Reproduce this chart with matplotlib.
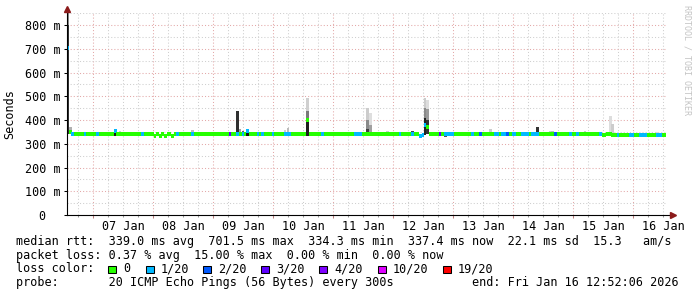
import numpy as np
import matplotlib
matplotlib.use('Agg')
import matplotlib.pyplot as plt
import matplotlib.dates as mdates
from matplotlib.ticker import MultipleLocator, FuncFormatter, NullFormatter
from matplotlib.patches import Rectangle
from datetime import datetime

# 10 days of hourly rows
t_start = datetime(2026, 1, 6, 13, 17)
n_slots = 240

# median rtt (ms), step data: value holds from this hour slot to the next entry
med_slot = [0, 1, 2, 19, 20, 35, 36, 37, 38, 39, 40, 42, 43, 72, 73, 96, 97,
            141, 142, 143, 144, 145, 214, 216, 218]
med_ms = [701.5, 350, 339, 352, 339, 333, 339, 333, 339, 333, 339, 333, 339,
          352, 339, 402, 339, 334.3, 336, 380, 372, 339, 335, 339, 337.4]

# hours with packet loss (pings lost of 20)
loss_slot = [0, 2, 7, 12, 19, 30, 44, 50, 65, 68, 70, 72, 76, 78, 82, 87, 88, 89,
             102, 115, 116, 117, 133, 138, 141, 142, 143, 149, 151, 152, 153, 154,
             162, 165, 171, 172, 174, 175, 176, 178, 179, 182, 183, 184, 186, 187,
             188, 195, 201, 204, 213, 220, 225, 226, 229, 230, 231, 236, 237]
loss_n = [1, 1, 1, 1, 1, 1, 1, 1, 3, 1, 1, 1, 1, 1, 1, 1, 1, 1,
          1, 1, 1, 1, 1, 1, 1, 1, 1, 3, 1, 1, 1, 1,
          1, 2, 1, 1, 1, 1, 2, 1, 1, 1, 1, 1, 1, 1,
          1, 2, 1, 1, 1, 1, 1, 1, 1, 1, 1, 1, 1]

# smoke: spread of the pings in an hour, drawn as grey bands
smoke_slot = [0, 0, 1, 19, 21, 25, 50, 65, 68, 69, 70, 72, 87, 88,
              96, 96, 96, 110, 116, 120, 120, 120, 121, 121, 128, 133, 138,
              143, 143, 143, 144, 144, 144, 146, 151, 169, 188, 191, 193, 194,
              207, 217, 218, 236, 239]
smoke_lo = [339, 800, 339, 333, 339, 339, 339, 332, 339, 339, 339, 331, 339, 339,
            333, 404, 440, 339, 336, 339, 362, 400, 339, 380, 339, 339, 339,
            336, 410, 450, 339, 400, 445, 331, 330, 339, 339, 339, 339, 339,
            339, 339, 337, 337, 332]
smoke_hi = [800, 860, 372, 358, 352, 348, 356, 345, 438, 362, 355, 358, 358, 366,
            404, 440, 493, 350, 345, 362, 400, 450, 380, 430, 353, 346, 355,
            410, 450, 492, 400, 445, 485, 339, 339, 363, 370, 346, 353, 353,
            355, 418, 383, 350, 342]
smoke_grey = ['#333333', '#8c8c8c', '#b0b0b0', '#1a1a1a', '#d0d0d0', '#c8c8c8',
              '#bcbcbc', '#404040', '#303030', '#a0a0a0', '#606060', '#111111',
              '#d0d0d0', '#bcbcbc', '#1e1e1e', '#7a7a7a', '#cfcfcf', '#b0b0b0',
              '#404040', '#404040', '#8a8a8a', '#cccccc', '#a0a0a0', '#dedede',
              '#cccccc', '#555555', '#444444', '#222222', '#8a8a8a', '#cccccc',
              '#333333', '#9a9a9a', '#dddddd', '#444444', '#555555', '#cccccc',
              '#333333', '#666666', '#cccccc', '#bbbbbb', '#cccccc', '#dddddd',
              '#cccccc', '#dddddd', '#222222']

loss_levels = [0, 1, 2, 3, 4, 10, 19]
loss_labels = ['0', '1/20', '2/20', '3/20', '4/20', '10/20', '19/20']
loss_colors = ['#26ff00', '#00b8ff', '#0059ff', '#5e00ff', '#7e00ff', '#dd00ff', '#ff0000']

rtt_line = 'median rtt:  339.0 ms avg  701.5 ms max  334.3 ms min  337.4 ms now  22.1 ms sd  15.3   am/s'
loss_line = 'packet loss: 0.37 % avg  15.00 % max  0.00 % min  0.00 % now'
probe_line = 'probe:       20 ICMP Echo Pings (56 Bytes) every 300s'
end_line = 'end: Fri Jan 16 12:52:06 2026'

W, H = 697, 297
plt.rcParams['font.family'] = 'DejaVu Sans Mono'
fig = plt.figure(figsize=(W / 100, H / 100), dpi=100, facecolor='white')
ax = fig.add_axes([66.5 / W, 82 / H, 600 / W, 202.1 / H])

hour = 1 / 24
x0 = mdates.date2num(t_start)
slot_x = x0 + np.arange(n_slots) * hour

# per-hour median and loss from the step lists
edges = med_slot + [n_slots]
med = np.repeat(med_ms, np.diff(edges))
loss = np.zeros(n_slots, dtype=int)
loss[loss_slot] = loss_n
col = [loss_colors[max(i for i, l in enumerate(loss_levels) if l <= n)] for n in loss]

sx = x0 + np.array(smoke_slot) * hour
ax.bar(sx, np.array(smoke_hi) - np.array(smoke_lo), bottom=smoke_lo, width=hour,
       align='edge', color=smoke_grey, linewidth=0, zorder=2)
ax.hlines(med, slot_x, slot_x + hour, colors=col, lw=1.6, zorder=3,
          capstyle='butt', antialiased=False)

ax.set_xlim(x0, x0 + n_slots * hour)
ax.set_ylim(0, 851)

ax.xaxis.set_major_locator(mdates.DayLocator())
ax.xaxis.set_minor_locator(mdates.HourLocator(byhour=[6, 12, 18]))
ax.xaxis.set_major_formatter(NullFormatter())
ax.xaxis.set_minor_formatter(FuncFormatter(
    lambda v, p: mdates.num2date(v).strftime('%d %b') if mdates.num2date(v).hour == 12 else ''))
ax.yaxis.set_major_locator(MultipleLocator(100))
ax.yaxis.set_minor_locator(MultipleLocator(50))
ax.yaxis.set_major_formatter(FuncFormatter(lambda v, p: '0  ' if v == 0 else f'{v:.0f} m'))

ax.grid(which='major', color='#e3a8a8', lw=0.75, ls=(0, (1, 2)), zorder=1)
ax.grid(which='minor', color='#cfcfcf', lw=0.75, ls=(0, (1, 2)), zorder=1)
ax.tick_params(which='both', labelsize=8.5, colors='black', width=0.75)
ax.tick_params(axis='x', which='major', length=2.5, color='#c08080')
ax.tick_params(axis='x', which='minor', length=1.5, color='#999999', pad=2)
ax.tick_params(axis='y', which='major', length=2.5, pad=2)
ax.tick_params(axis='y', which='minor', length=0)

for s in ax.spines.values():
    s.set_visible(False)
ax.plot([0, 1.011], [0, 0], transform=ax.transAxes, clip_on=False, color='black', lw=0.8, zorder=4)
ax.plot([0, 0], [0, 1.02], transform=ax.transAxes, clip_on=False, color='black', lw=0.8, zorder=4)
ax.plot([1.011], [0], '>', transform=ax.transAxes, clip_on=False, color='#8b1a1a', ms=4, zorder=5)
ax.plot([0], [1.02], '^', transform=ax.transAxes, clip_on=False, color='#8b1a1a', ms=4, zorder=5)

ax.set_ylabel('Seconds', fontsize=8.5)
ax.yaxis.set_label_coords((16 - 66.5) / 600, 0.5)

def fx(x):
    return x / W

def fy(y):
    return 1 - y / H

fig.text(fx(686.5), fy(5), 'RRDTOOL / TOBI OETIKER', rotation=270, fontsize=6,
         color='#c4c4c4', ha='center', va='top')

fs = 8.5
fig.text(fx(16), fy(241.7), rtt_line, fontsize=fs, va='center')
fig.text(fx(16), fy(255), loss_line, fontsize=fs, va='center')
fig.text(fx(16), fy(269), 'loss color:', fontsize=fs, va='center')
fig.text(fx(16), fy(282.7), probe_line, fontsize=fs, va='center')
fig.text(fx(679), fy(282.7), end_line, fontsize=fs, va='center', ha='right')

box_x = [108, 146, 203, 261, 319, 378, 443]
for bx, c, lab in zip(box_x, loss_colors, loss_labels):
    fig.add_artist(Rectangle((fx(bx), fy(273)), 7.5 / W, 7.5 / H, transform=fig.transFigure,
                             facecolor=c, edgecolor='black', lw=0.75))
    fig.text(fx(bx + 15), fy(269), lab, fontsize=fs, va='center')

fig.savefig('out.png', dpi=100, facecolor='white')
